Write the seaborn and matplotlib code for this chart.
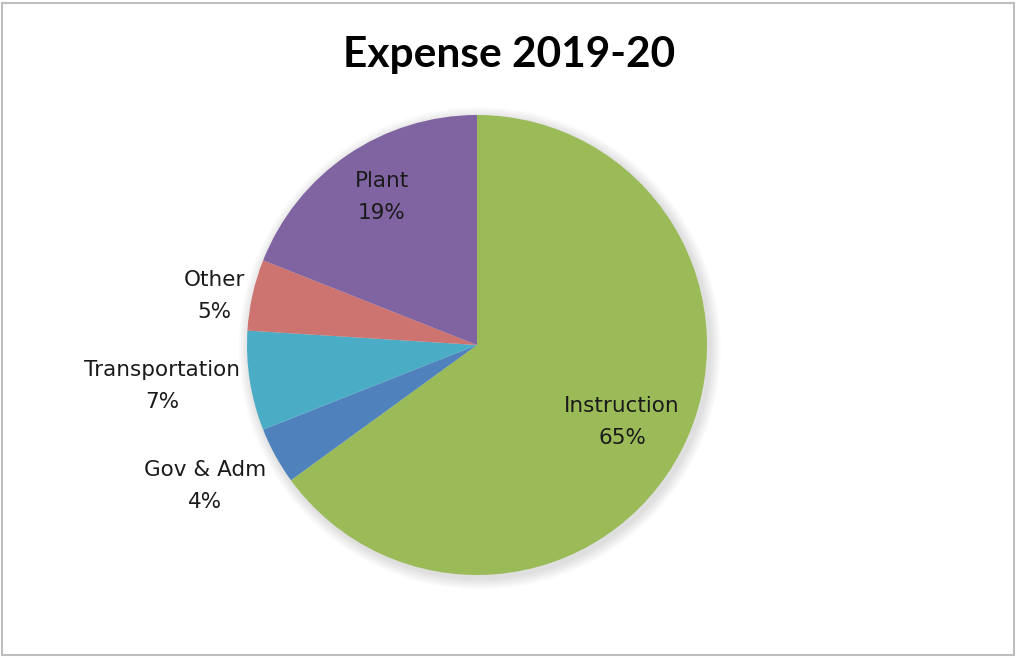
import numpy as np
import matplotlib
matplotlib.use("Agg")
import matplotlib.pyplot as plt
from matplotlib.patches import Rectangle, Circle
import seaborn as sns

# Expense shares, 2019-20 (percent), drawn clockwise from 12 o'clock
categories = ["Instruction", "Gov & Adm", "Transportation", "Other", "Plant"]
shares = [65, 4, 7, 5, 19]
colors = ["#9BBB59", "#4F81BD", "#4BACC6", "#CD7470", "#8064A2"]
# label placement: radius (fraction of pie radius) and angular nudge (degrees)
label_radius = [0.714, 1.332, 1.381, 1.163, 0.765]
label_nudge = [-1.0, -1.4, -1.6, 2.0, -1.5]

sns.set_theme(style="white")
plt.rcParams["font.family"] = ["DejaVu Sans"]

W, H = 1018, 658
fig = plt.figure(figsize=(W / 100, H / 100), dpi=100)
fig.patch.set_facecolor("white")

# chart frame
fig.patches.append(Rectangle((2 / W, 3 / H), 1012 / W, 652 / H, transform=fig.transFigure,
                             fill=False, edgecolor="#BEBEBE", linewidth=1.5))

cx, cy, R = 477, 345, 230
ax = fig.add_axes([(cx - R) / W, (H - cy - R) / H, 2 * R / W, 2 * R / H])
ax.axis("off")

# soft drop shadow behind the pie
for i in range(8):
    ax.add_patch(Circle((0.012, -0.014), 1.0 + 0.006 * (8 - i), facecolor="black",
                        alpha=0.015, edgecolor="none", zorder=0, clip_on=False))

wedges, _ = ax.pie(shares, colors=colors, startangle=90, counterclock=False,
                   radius=1.0, wedgeprops=dict(linewidth=0, zorder=2))
ax.set_xlim(-1, 1)
ax.set_ylim(-1, 1)
ax.set_aspect("equal")

total = sum(shares)
start = 90.0
for name, val, rr, nudge in zip(categories, shares, label_radius, label_nudge):
    mid = np.deg2rad(start - 360.0 * val / total / 2 + nudge)
    start -= 360.0 * val / total
    ax.text(rr * np.cos(mid), rr * np.sin(mid), f"{name}\n{val}%", ha="center", va="center",
            fontsize=15.5, color="#1a1a1a", linespacing=1.75, zorder=3, clip_on=False)

fig.text(509 / W, 1 - 55 / H, "Expense 2019-20", ha="center", va="center",
         fontsize=30.5, fontweight="bold", family=["Lato", "DejaVu Sans"], color="black")

fig.savefig("out.png", dpi=100)
